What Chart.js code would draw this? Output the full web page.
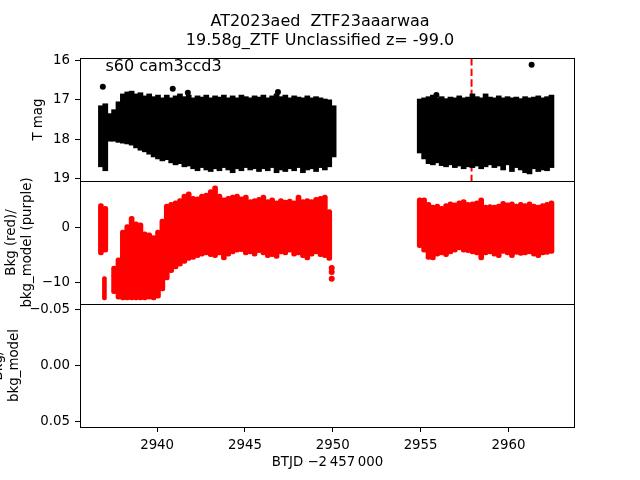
<!DOCTYPE html>
<html lang="en">
<head>
<meta charset="UTF-8">
<title>AT2023aed light curve</title>
<script src="https://cdn.jsdelivr.net/npm/chart.js"></script>
<style>
  body { margin: 0; background: #fff; }
  .wrap { position: relative; width: 640px; height: 480px; }
  canvas { position: absolute; left: 0; }
</style>
</head>
<body>
<div class="wrap">
  <canvas id="cMag" width="640" height="201" style="top:0px"></canvas>
  <canvas id="cBkg" width="640" height="163" style="top:161px"></canvas>
  <canvas id="cModel" width="640" height="196" style="top:284px"></canvas>
</div>
<script>
// time bins (BTJD - 2457000)
const binT = [
  2936.80, 2937.05, 2937.30, 2937.55, 2937.80, 2938.05, 2938.30, 2938.55, 2938.80, 2939.05,
  2939.30, 2939.55, 2939.80, 2940.05, 2940.30, 2940.55, 2940.80, 2941.05, 2941.30, 2941.55,
  2941.80, 2942.05, 2942.30, 2942.55, 2942.80, 2943.05, 2943.30, 2943.55, 2943.80, 2944.05,
  2944.30, 2944.55, 2944.80, 2945.05, 2945.30, 2945.55, 2945.80, 2946.05, 2946.30, 2946.55,
  2946.80, 2947.05, 2947.30, 2947.55, 2947.80, 2948.05, 2948.30, 2948.55, 2948.80, 2949.05,
  2949.30, 2949.55, 2949.80, 2950.05,
  2954.95, 2955.20, 2955.45, 2955.70, 2955.95, 2956.20, 2956.45, 2956.70, 2956.95, 2957.20,
  2957.45, 2957.70, 2957.95, 2958.20, 2958.45, 2958.70, 2958.95, 2959.20, 2959.45, 2959.70,
  2959.95, 2960.20, 2960.45, 2960.70, 2960.95, 2961.20, 2961.45, 2961.70, 2961.95, 2962.20,
  2962.45
];
// T mag envelope per bin: brightest and faintest value
const magBright = [
  17.15, 17.10, 17.35, 17.25, 17.05, 16.85, 16.80, 16.78, 16.85, 16.82,
  16.90, 16.85, 16.92, 16.88, 16.95, 16.88, 16.95, 16.90, 16.85, 16.92,
  16.88, 16.95, 16.90, 16.93, 16.88, 16.95, 16.90, 16.93, 16.88, 16.95,
  16.90, 16.95, 16.88, 16.92, 16.95, 16.90, 16.93, 16.88, 16.95, 16.90,
  16.85, 16.92, 16.88, 16.95, 16.90, 16.93, 16.95, 16.90, 16.95, 16.92,
  16.95, 16.98, 17.00, 17.15,
  16.98, 16.95, 16.92, 16.88, 16.95, 16.92, 16.97, 16.93, 16.95, 16.90,
  16.95, 16.93, 16.85, 16.92, 16.95, 16.85, 16.93, 16.95, 16.90, 16.95,
  16.92, 16.95, 16.93, 16.97, 16.92, 16.95, 16.93, 16.90, 16.95, 16.92,
  16.88
];
const magFaint = [
  18.70, 18.80, 18.05, 18.05, 18.08, 18.10, 18.12, 18.15, 18.22, 18.28,
  18.32, 18.38, 18.45, 18.50, 18.55, 18.52, 18.60, 18.65, 18.62, 18.70,
  18.68, 18.75, 18.80, 18.72, 18.78, 18.82, 18.75, 18.80, 18.72, 18.78,
  18.85, 18.75, 18.80, 18.72, 18.78, 18.75, 18.82, 18.75, 18.80, 18.72,
  18.85, 18.78, 18.82, 18.75, 18.80, 18.72, 18.85, 18.78, 18.75, 18.82,
  18.72, 18.78, 18.70, 18.45,
  18.35, 18.50, 18.62, 18.65, 18.60, 18.67, 18.70, 18.65, 18.72, 18.68,
  18.75, 18.70, 18.72, 18.68, 18.75, 18.70, 18.65, 18.72, 18.68, 18.78,
  18.65, 18.82, 18.72, 18.78, 18.85, 18.88, 18.75, 18.82, 18.78, 18.80,
  18.72
];
// isolated T mag points
const magOutT = [2936.91, 2940.89, 2941.75, 2946.88, 2955.90, 2961.32];
const magOutV = [16.67, 16.72, 16.82, 16.80, 16.88, 16.11];

// background envelope per bin (null = no data in that bin)
const bkgLow = [
  -5.0, -4.5, null, -12.0, -13.0, -13.1, -13.1, -13.1, -13.1, -13.1,
  -13.1, -13.0, -13.1, -12.8, -11.5, -9.5, -8.2, -7.5, -7.0, -6.5,
  -6.0, -5.8, -5.5, -5.2, -5.0, -5.3, -5.5, -5.0, -5.9, -5.2,
  -4.8, -4.5, -4.4, -5.0, -4.8, -5.2, -4.6, -5.0, -5.5, -5.3,
  -5.6, -4.8, -5.0, -4.5, -5.2, -5.0, -5.5, -5.9, -5.2, -4.8,
  -5.3, -5.5, -6.0, null,
  -3.7, -4.5, -5.8, -5.9, -5.2, -5.0, -5.3, -4.8, -4.5, -4.1,
  -4.5, -4.6, -4.8, -5.0, -5.9, -5.0, -4.8, -5.2, -5.5, -4.7,
  -5.0, -5.5, -4.9, -5.1, -5.0, -4.8, -5.2, -5.5, -5.0, -4.9,
  -4.7
];
const bkgHigh = [
  4.3, 3.8, null, -7.0, -5.5, -0.5, 0.5, 2.0, 1.0, 0.8,
  -0.8, -1.0, -1.5, -0.5, 1.5, 4.2, 4.5, 4.8, 5.2, 6.0,
  6.4, 5.6, 5.5, 6.0, 6.2, 6.8, 7.5, 6.0, 5.3, 5.6,
  5.8, 6.0, 5.5, 5.8, 5.0, 5.2, 5.4, 5.8, 5.0, 5.3,
  4.8, 5.2, 4.9, 5.1, 4.8, 5.8, 5.0, 5.2, 5.0, 5.4,
  5.6, 5.8, 3.2, null,
  5.3, 5.3, 4.5, 4.0, 4.2, 3.8, 4.3, 4.6, 4.4, 4.8,
  5.0, 4.5, 4.6, 4.8, 5.3, 4.0, 4.1, 4.0, 4.2, 4.7,
  4.4, 4.6, 4.2, 4.5, 4.3, 4.6, 4.2, 4.0, 4.3, 4.5,
  4.8
];
// separate low cluster at the start and isolated low points at the end
const bkgClusterT = [2937.00];
const bkgClusterLow = [-13.1];
const bkgClusterHigh = [-8.9];
const bkgOutT = [2949.94, 2949.94, 2949.94];
const bkgOutV = [-7.35, -8.07, -9.3];

const peakT = 2957.9;
const xMin = 2935.61, xMax = 2963.79;
const magMin = 15.94, magMax = 19.06;
const bkgMin = -13.85, bkgMax = 8.36;
const modelMin = -0.055, modelMax = 0.055;
const xTicks = [2940, 2945, 2950, 2955, 2960];
const magTicks = [16, 17, 18, 19];
const bkgTicks = [-10, 0];
const modelTicks = [-0.05, 0, 0.05];

Chart.defaults.font.family = 'DejaVu Sans';
Chart.defaults.font.size = 13.33;
Chart.defaults.color = '#000';

const minus = s => s.replace('-', '\u2212');

// axes box round each panel
const frame = {
  id: 'frame',
  afterDraw(chart) {
    const {ctx, chartArea: a} = chart;
    const l = Math.round(a.left), t = Math.round(a.top), r = Math.round(a.right), b = Math.round(a.bottom);
    ctx.save();
    ctx.strokeStyle = '#000';
    ctx.lineWidth = 1;
    ctx.strokeRect(l + 0.5, t + 0.5, r - l - 1, b - t);
    ctx.restore();
  }
};

const sectorLabel = {
  id: 'sectorLabel',
  afterDraw(chart) {
    const ctx = chart.ctx;
    ctx.save();
    ctx.font = '16px "DejaVu Sans"';
    ctx.fillStyle = '#000';
    ctx.textBaseline = 'alphabetic';
    ctx.fillText('s60 cam3ccd3', 105.5, 70.7);
    ctx.restore();
  }
};

function xScale(show) {
  const s = {
    type: 'linear', min: xMin, max: xMax, offset: false, display: show,
    afterBuildTicks: sc => { sc.ticks = xTicks.map(v => ({value: v})); },
    grid: { drawOnChartArea: false, tickLength: 5, color: '#000' },
    border: { display: false },
    ticks: { padding: 6, maxRotation: 0, autoSkip: false, callback: v => String(v) },
    title: { display: show, text: 'BTJD \u22122\u2009457\u2009000', padding: { top: 0, bottom: 9 } }
  };
  if (show) s.afterFit = sc => { sc.height = 53; };
  return s;
}

function yScale(min, max, reverse, ticks, fmt, title, padTop) {
  return {
    type: 'linear', position: 'left', min: min, max: max, reverse: reverse,
    afterBuildTicks: s => { s.ticks = ticks.map(v => ({value: v})); },
    afterFit: s => { s.width = 80; },
    grid: { drawOnChartArea: false, tickLength: 5, color: '#000' },
    border: { display: false },
    ticks: { padding: 5, callback: fmt },
    title: { display: true, text: title, padding: { top: padTop, bottom: 0 }, font: { size: 13.33, lineHeight: 1.17 } }
  };
}

const baseOpts = {
  responsive: false,
  animation: false,
  events: []
};
const noLegend = { legend: { display: false }, tooltip: { enabled: false } };

// top panel: T mag
const magBars = binT.map((t, i) => ({x: t, y: [magBright[i], magFaint[i]]}));
new Chart(document.getElementById('cMag'), {
  type: 'bar',
  data: {
    datasets: [
      { type: 'line', data: [{x: peakT, y: magMin}, {x: peakT, y: magMax}], borderColor: '#ff0000',
        borderWidth: 2, borderDash: [7.4, 3.2], pointRadius: 0, order: 3 },
      { data: magBars, backgroundColor: '#000', barThickness: 5, grouped: false, order: 2 },
      { type: 'scatter', data: magOutT.map((t, i) => ({x: t, y: magOutV[i]})),
        backgroundColor: '#000', borderWidth: 0, pointRadius: 3, order: 1 }
    ]
  },
  options: Object.assign({}, baseOpts, {
    layout: { padding: { left: 0, right: 0, top: 0, bottom: 20 } },
    plugins: Object.assign({}, noLegend, {
      title: {
        display: true,
        text: ['AT2023aed  ZTF23aaarwaa', '19.58g_ZTF Unclassified z= -99.0'],
        color: '#000',
        font: { size: 16, weight: 'normal', lineHeight: 1.17 },
        padding: { top: 12.6, bottom: 8 }
      }
    }),
    scales: {
      x: xScale(false),
      y: yScale(magMin, magMax, true, magTicks, v => String(v), 'T mag', 30.5),
      spacer: { type: 'linear', position: 'right', display: true, ticks: { display: false },
        grid: { display: false }, border: { display: false }, afterFit: s => { s.width = 65; } }
    }
  }),
  plugins: [frame, sectorLabel]
});

// middle panel: background
const bkgBars = [];
binT.forEach((t, i) => {
  if (bkgLow[i] !== null) bkgBars.push({x: t, y: [bkgLow[i], bkgHigh[i]]});
});
new Chart(document.getElementById('cBkg'), {
  type: 'bar',
  data: {
    datasets: [
      { data: bkgBars, backgroundColor: '#ff0000', barThickness: 5, grouped: false,
        borderRadius: 2.5, borderSkipped: false },
      { data: bkgClusterT.map((t, i) => ({x: t, y: [bkgClusterLow[i], bkgClusterHigh[i]]})),
        backgroundColor: '#ff0000', barThickness: 4, grouped: false, borderRadius: 2, borderSkipped: false },
      { type: 'scatter', data: bkgOutT.map((t, i) => ({x: t, y: bkgOutV[i]})),
        backgroundColor: '#ff0000', borderWidth: 0, pointRadius: 3 }
    ]
  },
  options: Object.assign({}, baseOpts, {
    layout: { padding: { left: 0, right: 65, top: 20, bottom: 20 } },
    plugins: noLegend,
    scales: {
      x: xScale(false),
      y: yScale(bkgMin, bkgMax, false, bkgTicks, v => minus(String(v)),
        ['Bkg (red)/', 'bkg_model (purple)'], 3.7)
    }
  }),
  plugins: [frame]
});

// bottom panel: background model (empty)
new Chart(document.getElementById('cModel'), {
  type: 'scatter',
  data: { datasets: [] },
  options: Object.assign({}, baseOpts, {
    layout: { padding: { left: 0, right: 65, top: 20, bottom: 0 } },
    plugins: noLegend,
    scales: {
      x: xScale(true),
      y: yScale(modelMin, modelMax, true, modelTicks, v => minus(Number(v).toFixed(2)),
        ['Bkg/', 'bkg_model'], -9)
    }
  }),
  plugins: [frame]
});
</script>
</body>
</html>
